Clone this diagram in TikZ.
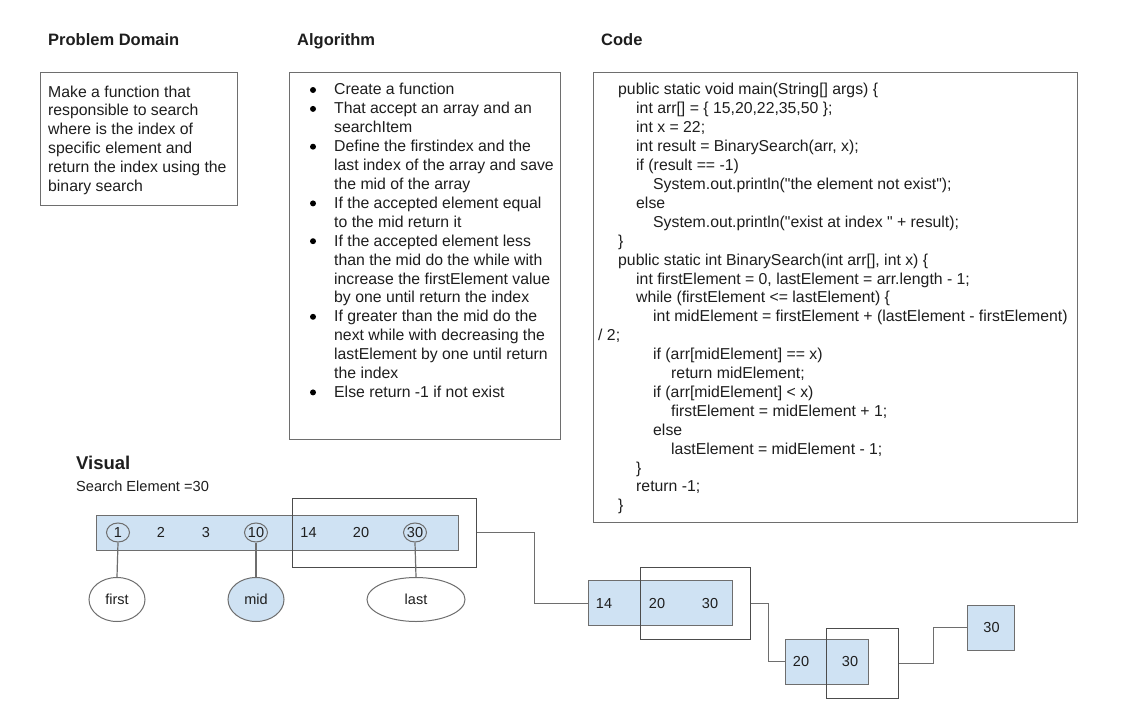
\documentclass[tikz,border=0pt]{standalone}
\usepackage{fontspec}
\setmainfont{Liberation Sans}[Ligatures=TeXOff]
\usetikzlibrary{shapes.geometric}
\definecolor{lblue}{HTML}{CFE2F3}
\definecolor{edge}{HTML}{6E6E6E}
\definecolor{ink}{HTML}{1E1E1E}
\newcommand{\dq}{\symbol{34}}
\begin{document}
\begin{tikzpicture}[x=1pt,y=-1pt,
  txt/.style={anchor=base west,inner sep=0pt,text=ink,font=\fontsize{15.8}{18.9}\selectfont},
  head/.style={anchor=base west,inner sep=0pt,text=ink,font=\fontsize{16.5}{19}\selectfont\bfseries},
  panel/.style={draw=edge,fill=white,line width=1pt,inner sep=0pt,anchor=north west},
  cell/.style={draw=edge,fill=lblue,line width=1pt,inner sep=0pt},
  frame/.style={draw=black!70,line width=1pt,inner sep=0pt},
  num/.style={inner sep=0pt,text=ink,font=\fontsize{14.5}{16}\selectfont},
  ring/.style={draw=edge,ellipse,line width=1pt,minimum width=23pt,minimum height=19pt,inner sep=0pt},
  tag/.style={draw=edge,ellipse,line width=1pt,minimum height=44pt,inner sep=0pt,text=ink,font=\fontsize{14.5}{16}\selectfont},
  link/.style={draw=edge,line width=1.2pt},
  dot/.style={circle,fill=black,minimum size=6pt,inner sep=0pt}]
\useasboundingbox[fill=white] (0,0) rectangle (1127,725);

% headings
\node[head] (hp) at (48,46) {Problem Domain};
\node[head] (ha) at (297,46) {Algorithm};
\node[head] (hc) at (601,46) {Code};

% panels
\node[panel,minimum width=197pt,minimum height=133pt] (pp) at (40,72) {};
\node[panel,minimum width=271pt,minimum height=367pt] (pa) at (289,72) {};
\node[panel,minimum width=484pt,minimum height=450pt] (pc) at (593,72) {};

% problem text
\node[txt] (p1) at (48,97) {Make a function that};
\node[txt] (p2) at (48,115.9) {responsible to search};
\node[txt] (p3) at (48,134.8) {where is the index of};
\node[txt] (p4) at (48,153.7) {specific element and};
\node[txt] (p5) at (48,172.6) {return the index using the};
\node[txt] (p6) at (48,191.5) {binary search};

% algorithm text
\foreach \i in {1,2,4,7,9,13,17}{
  \node[dot] (b\i) at (313,{95+18.9*(\i-1)-5}) {};
}
\node[txt] (a1) at (334,95.0) {Create a function};
\node[txt] (a2) at (334,113.9) {That accept an array and an};
\node[txt] (a3) at (334,132.8) {searchItem};
\node[txt] (a4) at (334,151.7) {Define the firstindex and the};
\node[txt] (a5) at (334,170.6) {last index of the array and save};
\node[txt] (a6) at (334,189.5) {the mid of the array};
\node[txt] (a7) at (334,208.4) {If the accepted element equal};
\node[txt] (a8) at (334,227.3) {to the mid return it};
\node[txt] (a9) at (334,246.2) {If the accepted element less};
\node[txt] (a10) at (334,265.1) {than the mid do the while with};
\node[txt] (a11) at (334,284.0) {increase the firstElement value};
\node[txt] (a12) at (334,302.9) {by one until return the index};
\node[txt] (a13) at (334,321.8) {If greater than the mid do the};
\node[txt] (a14) at (334,340.7) {next while with decreasing the};
\node[txt] (a15) at (334,359.6) {lastElement by one until return};
\node[txt] (a16) at (334,378.5) {the index};
\node[txt] (a17) at (334,397.4) {Else return -1 if not exist};

% code text
\node[txt] (c1) at (618,95.0) {public static void main(String[] args) \{};
\node[txt] (c2) at (636,113.9) {int arr[] = \{ 15,20,22,35,50 \};};
\node[txt] (c3) at (636,132.8) {int x = 22;};
\node[txt] (c4) at (636,151.7) {int result = BinarySearch(arr, x);};
\node[txt] (c5) at (636,170.6) {if (result == -1)};
\node[txt] (c6) at (653,189.5) {System.out.println(\dq the element not exist\dq);};
\node[txt] (c7) at (636,208.4) {else};
\node[txt] (c8) at (653,227.3) {System.out.println(\dq exist at index \dq{} + result);};
\node[txt] (c9) at (618,246.2) {\}};
\node[txt] (c10) at (618,265.1) {public static int BinarySearch(int arr[], int x) \{};
\node[txt] (c11) at (636,284.0) {int firstElement = 0, lastElement = arr.length - 1;};
\node[txt] (c12) at (636,302.9) {while (firstElement <= lastElement) \{};
\node[txt] (c13) at (653,321.8) {int midElement = firstElement + (lastElement - firstElement)};
\node[txt] (c14) at (598,340.7) {/ 2;};
\node[txt] (c15) at (653,359.6) {if (arr[midElement] == x)};
\node[txt] (c16) at (671,378.5) {return midElement;};
\node[txt] (c17) at (653,397.4) {if (arr[midElement] < x)};
\node[txt] (c18) at (671,416.3) {firstElement = midElement + 1;};
\node[txt] (c19) at (653,435.2) {else};
\node[txt] (c20) at (671,454.1) {lastElement = midElement - 1;};
\node[txt] (c21) at (636,473.0) {\}};
\node[txt] (c22) at (636,491.9) {return -1;};
\node[txt] (c23) at (618,510.8) {\}};

% visual
\node[anchor=base west,inner sep=0pt,text=ink,font=\fontsize{18.5}{21}\selectfont\bfseries] (hv) at (76,469) {Visual};
\node[anchor=base west,inner sep=0pt,text=ink,font=\fontsize{14.6}{17}\selectfont] (se) at (76,491) {Search Element =30};

% first array
\node[cell,minimum width=361.5pt,minimum height=35pt] (arr) at (277.5,532.5) {};
\node[num] (n1) at (118,532.5) {1};
\node[num] (n2) at (161,532.5) {2};
\node[num] (n3) at (206,532.5) {3};
\node[num] (n10) at (256,532.5) {10};
\node[num] (n14) at (308.5,532.5) {14};
\node[num] (n20) at (361,532.5) {20};
\node[num] (n30) at (415,532.5) {30};
\node[ring] (r1) at (118,532.5) {};
\node[ring] (r10) at (256,532.5) {};
\node[ring] (r30) at (415,532.5) {};
\node[frame,minimum width=184pt,minimum height=69pt] (o1) at (384,532.5) {};

% pointers
\node[tag,fill=white,minimum width=56pt] (first) at (117,599.5) {first};
\node[tag,fill=lblue,minimum width=56pt] (mid) at (256,599.5) {mid};
\node[tag,fill=white,minimum width=98pt] (last) at (416,599.5) {last};
\draw[link] (r1.south) -- (first.north);
\draw[link] (r10.south) -- (mid.north);
\draw[link] (r30.south) -- (last.north);

% second array
\node[cell,minimum width=144pt,minimum height=45pt] (b2) at (660.3,603.2) {};
\node[num] (m14) at (604,604) {14};
\node[num] (m20) at (657,604) {20};
\node[num] (m30) at (710,604) {30};
\node[frame,minimum width=109.6pt,minimum height=72pt] (o2) at (695.5,603.3) {};

% third array
\node[cell,minimum width=82.6pt,minimum height=44.7pt] (b3) at (827,661.7) {};
\node[num] (k20) at (801,661.7) {20};
\node[num] (k30) at (850,661.7) {30};
\node[frame,minimum width=72pt,minimum height=69.6pt] (o3) at (862,663.5) {};

% fourth array
\node[cell,minimum width=46.6pt,minimum height=45pt] (b4) at (991,627.5) {};
\node[num] (j30) at (991.5,627.5) {30};

% connectors
\draw[link] (o1.east) -- ++(58,0) |- (b2.west);
\draw[link] (o2.east) -- ++(17.5,0) |- (b3.west);
\draw[link] (o3.east) -- ++(35,0) |- (b4.west);
\end{tikzpicture}
\end{document}
